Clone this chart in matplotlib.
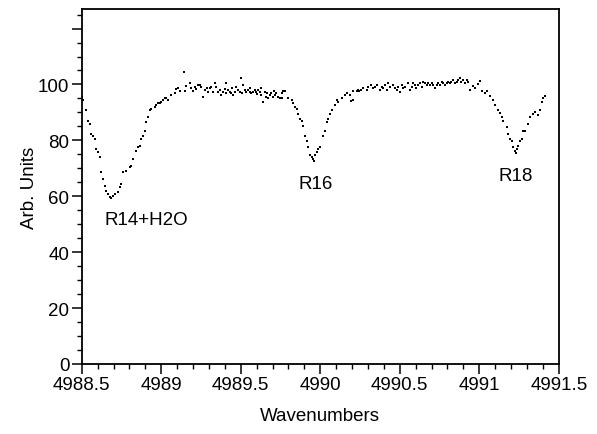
import matplotlib
matplotlib.use("Agg")
import matplotlib.pyplot as plt
from matplotlib.ticker import MultipleLocator

plt.rcParams['font.family'] = ['Liberation Sans', 'DejaVu Sans']

# spectrum points (wavenumber, arb. units)
wn_r14 = [4988.500, 4988.506, 4988.525, 4988.538, 4988.550, 4988.557, 4988.569, 4988.582, 4988.588, 4988.601,
          4988.613, 4988.619, 4988.632, 4988.645, 4988.651, 4988.664, 4988.676, 4988.682, 4988.695, 4988.708,
          4988.726, 4988.739, 4988.745, 4988.758, 4988.777, 4988.802, 4988.808, 4988.821, 4988.840, 4988.852,
          4988.865, 4988.871, 4988.884, 4988.896, 4988.903, 4988.915, 4988.928, 4988.934, 4988.959, 4988.965,
          4988.978, 4988.991, 4988.997, 4989.009, 4989.022, 4989.028, 4989.041, 4989.060, 4989.085, 4989.091,
          4989.104, 4989.116, 4989.142, 4989.148, 4989.154]
arb_r14 = [95.5, 94.3, 90.7, 87.1, 86.0, 82.4, 81.4, 80.6, 77.0, 76.0,
           74.2, 68.8, 66.3, 63.8, 62.0, 60.9, 59.9, 59.5, 60.2, 60.9,
           61.6, 63.4, 64.5, 68.8, 69.2, 70.6, 71.0, 73.5, 76.3, 77.8,
           78.1, 80.6, 81.4, 83.5, 86.7, 88.5, 90.7, 91.4, 91.8, 92.5,
           93.2, 93.5, 93.9, 94.3, 95.0, 95.3, 94.3, 96.4, 96.8, 98.2,
           98.9, 97.8, 104.3, 97.5, 99.3]

wn_flat1 = [4989.179, 4989.189, 4989.200, 4989.210, 4989.220, 4989.231, 4989.242, 4989.252, 4989.263, 4989.273,
            4989.285, 4989.294, 4989.305, 4989.315, 4989.326, 4989.336, 4989.347, 4989.357, 4989.368, 4989.378,
            4989.389, 4989.400, 4989.405, 4989.410, 4989.420, 4989.430, 4989.441, 4989.445, 4989.451, 4989.462,
            4989.472, 4989.483, 4989.493, 4989.504, 4989.510, 4989.514, 4989.525, 4989.535, 4989.546, 4989.556,
            4989.560, 4989.567, 4989.577, 4989.588, 4989.598, 4989.600, 4989.609, 4989.619, 4989.625, 4989.630,
            4989.640, 4989.651, 4989.661, 4989.665, 4989.672, 4989.682, 4989.693, 4989.703, 4989.710, 4989.714,
            4989.724, 4989.734, 4989.745]
arb_flat1 = [100.4, 98.6, 97.8, 99.2, 98.4, 99.8, 99.8, 99.2, 95.6, 98.0,
             98.8, 97.4, 98.6, 99.2, 97.4, 100.7, 99.2, 97.4, 98.0, 96.2,
             97.4, 98.4, 100.4, 96.8, 98.0, 97.4, 96.8, 98.6, 96.2, 97.4,
             99.2, 98.0, 97.4, 102.2, 97.0, 99.8, 98.0, 97.4, 98.0, 97.4,
             98.8, 96.8, 97.4, 98.0, 97.4, 96.6, 98.0, 97.4, 96.4, 98.6,
             93.8, 97.4, 95.6, 97.0, 95.0, 96.2, 96.8, 95.6, 97.8, 96.2,
             96.8, 95.6, 95.0]

wn_r16 = [4989.758, 4989.764, 4989.777, 4989.760, 4989.796, 4989.821, 4989.827, 4989.840, 4989.852, 4989.858,
          4989.871, 4989.884, 4989.890, 4989.903, 4989.915, 4989.921, 4989.934, 4989.947, 4989.953, 4989.958,
          4989.965, 4989.978, 4989.984, 4989.997, 4990.016, 4990.028, 4990.041, 4990.047, 4990.060, 4990.072,
          4990.091, 4990.104, 4990.110, 4990.135, 4990.154, 4990.167, 4990.186, 4990.196, 4990.204, 4990.207,
          4990.230]
arb_r16 = [96.8, 97.5, 97.5, 95.0, 95.0, 94.3, 93.2, 92.1, 91.4, 89.6,
           87.8, 87.1, 85.3, 81.7, 79.9, 77.8, 74.6, 74.2, 73.5, 72.6,
           74.6, 76.0, 77.0, 77.8, 81.7, 83.5, 86.7, 87.8, 89.6, 90.7,
           92.5, 94.3, 93.9, 95.0, 96.1, 96.8, 96.1, 94.0, 97.5, 94.4,
           97.5]

wn_flat2 = [4990.238, 4990.242, 4990.259, 4990.270, 4990.291, 4990.301, 4990.322, 4990.333, 4990.343, 4990.354,
            4990.375, 4990.385, 4990.396, 4990.406, 4990.417, 4990.427, 4990.438, 4990.459, 4990.469, 4990.480,
            4990.490, 4990.500, 4990.511, 4990.521, 4990.532, 4990.553, 4990.563, 4990.574, 4990.584, 4990.595,
            4990.605, 4990.616, 4990.626, 4990.637, 4990.647, 4990.658, 4990.668, 4990.679, 4990.689, 4990.700,
            4990.710, 4990.721, 4990.731, 4990.742, 4990.752, 4990.763, 4990.773, 4990.784, 4990.794, 4990.804,
            4990.815, 4990.825, 4990.836, 4990.846, 4990.857, 4990.867, 4990.878, 4990.888, 4990.899, 4990.909,
            4990.920, 4990.930, 4990.941]
arb_flat2 = [98.0, 97.8, 98.0, 98.6, 98.0, 99.2, 99.8, 98.6, 99.2, 99.8,
             98.0, 99.2, 98.6, 99.8, 98.0, 100.4, 99.2, 99.8, 98.6, 98.0,
             99.2, 97.4, 99.8, 98.6, 99.2, 100.4, 98.0, 99.2, 100.4, 99.8,
             98.6, 99.8, 100.4, 99.2, 101.0, 100.4, 99.8, 100.4, 99.8, 100.4,
             99.8, 98.6, 99.8, 100.4, 99.8, 101.0, 100.4, 99.8, 100.4, 101.0,
             100.4, 101.0, 101.6, 100.4, 101.0, 101.6, 102.2, 101.0, 101.6, 100.4,
             101.6, 101.0, 98.0]

wn_r18 = [4990.959, 4990.972, 4990.990, 4991.003, 4991.016, 4991.035, 4991.050, 4991.066, 4991.085, 4991.097,
          4991.116, 4991.130, 4991.142, 4991.148, 4991.173, 4991.179, 4991.192, 4991.204, 4991.211, 4991.223,
          4991.230, 4991.236, 4991.242, 4991.255, 4991.267, 4991.274, 4991.286, 4991.305, 4991.318, 4991.336,
          4991.349, 4991.368, 4991.381, 4991.393, 4991.399, 4991.412]
arb_r18 = [99.6, 98.6, 100.0, 101.4, 97.5, 96.8, 97.8, 95.7, 94.3, 92.5,
           90.7, 89.8, 88.5, 87.1, 84.9, 82.4, 80.6, 79.9, 77.8, 76.3,
           75.6, 77.0, 78.1, 79.6, 80.6, 83.2, 83.5, 86.0, 88.5, 89.6,
           90.3, 88.9, 90.7, 93.9, 95.0, 95.7]

# line labels
line_names = ['R14+H2O', 'R16', 'R18']
line_pos = [(4988.64, 51.6), (4989.97, 64.5), (4991.23, 67.4)]
line_ha = ['left', 'center', 'center']

fig = plt.figure(figsize=(5.97, 4.35), dpi=100)
ax = fig.add_axes([0.137, 0.161, 0.799, 0.816])

for xs, ys in [(wn_r14, arb_r14), (wn_flat1, arb_flat1), (wn_r16, arb_r16),
               (wn_flat2, arb_flat2), (wn_r18, arb_r18)]:
    ax.scatter(xs, ys, s=4, color='black', marker='s', linewidths=0)

for name, (x, y), ha in zip(line_names, line_pos, line_ha):
    ax.text(x, y, name, ha=ha, va='center', fontsize=13.5)

ax.set_xlim(4988.5, 4991.5)
ax.set_ylim(0, 127)
ax.xaxis.set_major_locator(MultipleLocator(0.5))
ax.xaxis.set_minor_locator(MultipleLocator(0.1))
ax.set_xticks([4988.5, 4989, 4989.5, 4990, 4990.5, 4991, 4991.5])
ax.set_xticklabels(['4988.5', '4989', '4989.5', '4990', '4990.5', '4991', '4991.5'])
ax.set_yticks([0, 20, 40, 60, 80, 100, 120])
ax.set_yticklabels(['0', '20', '40', '60', '80', '100', ''])
ax.yaxis.set_minor_locator(MultipleLocator(5))
ax.tick_params(which='major', length=7, width=1.1, labelsize=13.5, pad=2, direction='out')
ax.tick_params(which='minor', length=3.5, width=1.0, direction='out')

for sp in ax.spines.values():
    sp.set_linewidth(1.3)

ax.set_xlabel('Wavenumbers', fontsize=13.5, labelpad=10)
ax.set_ylabel('Arb. Units', fontsize=13.5, labelpad=0)

fig.savefig('out.png', dpi=100)
